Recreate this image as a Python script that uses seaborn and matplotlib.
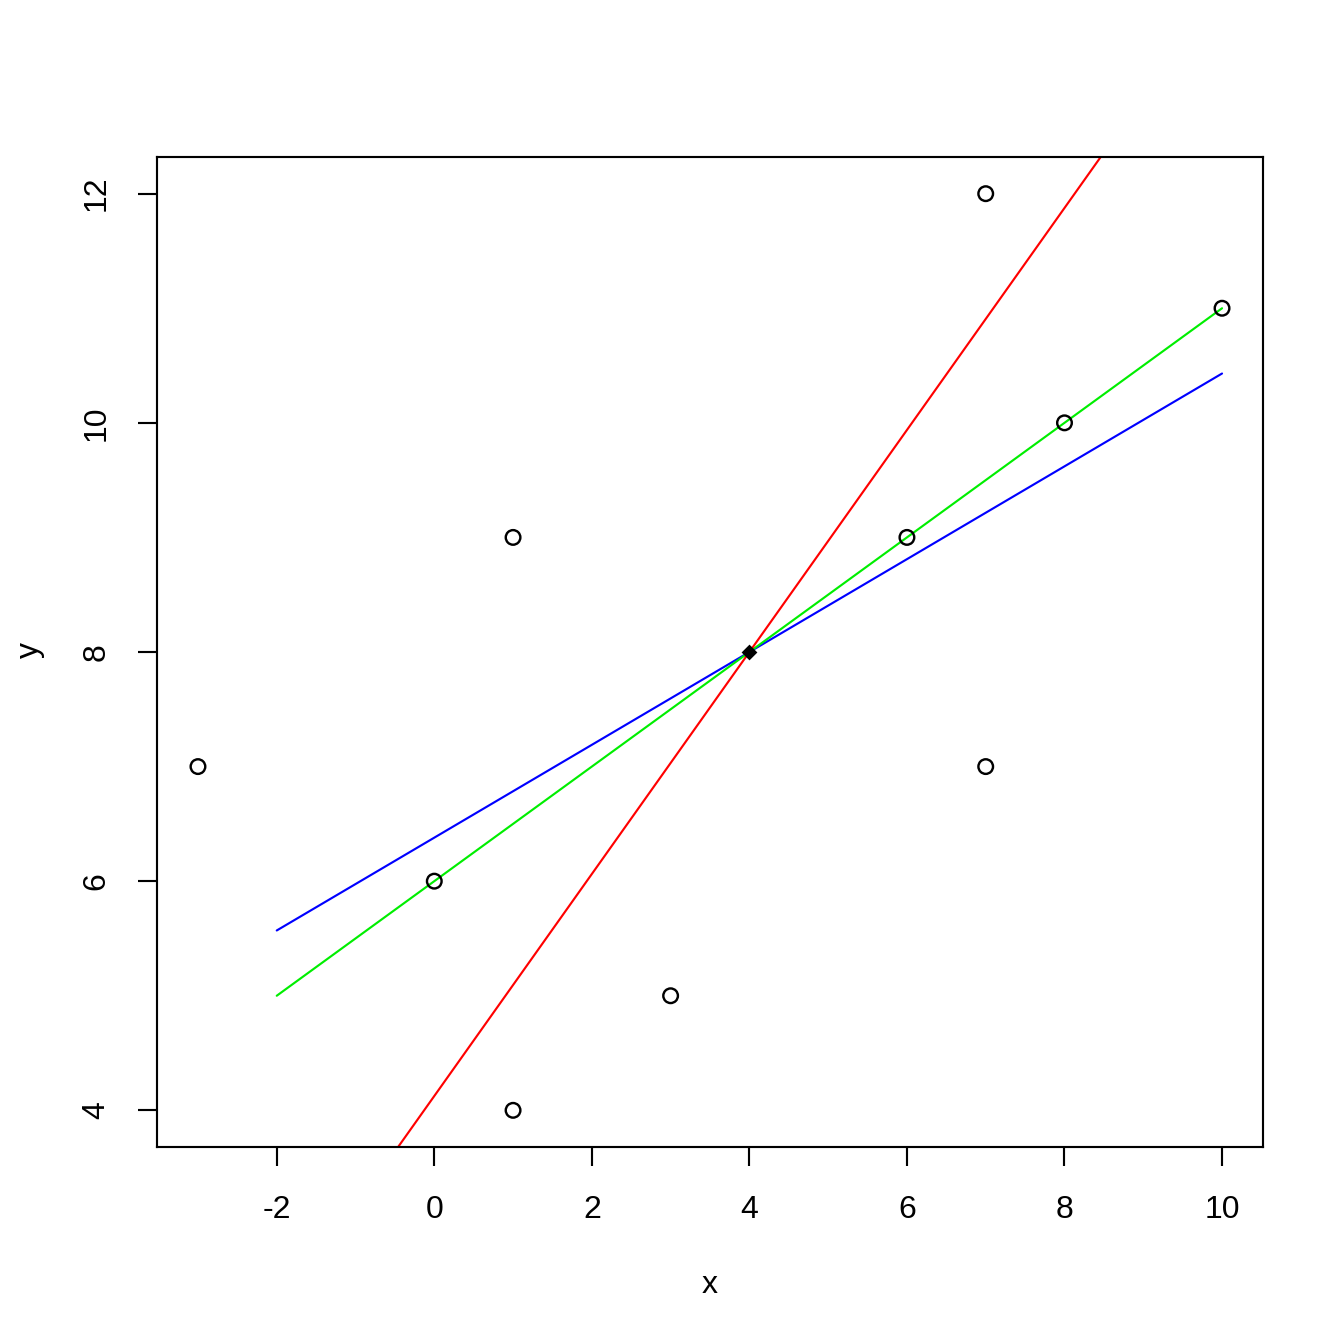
import numpy as np
import pandas as pd
import matplotlib
matplotlib.use("Agg")
import matplotlib.pyplot as plt
import seaborn as sns

# data points
x = [-3, 0, 1, 1, 3, 6, 7, 7, 8, 10]
y = [7, 6, 9, 4, 5, 9, 12, 7, 10, 11]
seg_x = [-2, 10]   # span of the blue / green segments

df = pd.DataFrame({"x": x, "y": y})
mx, my = df["x"].mean(), df["y"].mean()
dx, dy = df["x"] - mx, df["y"] - my
sxx, syy, sxy = (dx * dx).sum(), (dy * dy).sum(), (dx * dy).sum()

b_yx = sxy / sxx                      # y on x  (blue)
b_xy = syy / sxy                      # x on y  (red)
b_orth = (syy - sxx + np.sqrt((syy - sxx) ** 2 + 4 * sxy ** 2)) / (2 * sxy)  # orthogonal (green)

sns.set_style("white")
plt.rcParams["font.family"] = ["Liberation Sans", "DejaVu Sans"]
plt.rcParams["axes.unicode_minus"] = False
plt.rcParams["text.color"] = "black"
plt.rcParams["axes.labelcolor"] = "black"
plt.rcParams["xtick.color"] = "black"
plt.rcParams["ytick.color"] = "black"

fig = plt.figure(figsize=(7, 7), dpi=192)
ax = fig.add_axes([157 / 1344, 197 / 1344, 1106 / 1344, 990 / 1344])

sns.scatterplot(data=df, x="x", y="y", ax=ax, marker="o", s=30,
                facecolors="none", edgecolor="black", linewidth=0.9, zorder=3)

segs = pd.DataFrame({"x": seg_x})
segs["blue"] = my + b_yx * (segs["x"] - mx)
segs["green"] = my + b_orth * (segs["x"] - mx)
ax.plot(segs["x"], segs["blue"], color="blue", lw=0.8)
ax.plot(segs["x"], segs["green"], color="#00ee00", lw=0.8)
ax.axline((mx, my), slope=b_xy, color="red", lw=0.8)
ax.plot([mx], [my], marker="D", ms=3, color="black", zorder=4)

xr = max(x) - min(x)
yr = max(y) - min(y)
ax.set_xlim(min(x) - 0.04 * xr, max(x) + 0.04 * xr)
ax.set_ylim(min(y) - 0.04 * yr, max(y) + 0.04 * yr)

ax.set_xticks(range(-2, 11, 2))
ax.set_yticks(range(4, 13, 2))
ax.tick_params(axis="both", direction="out", length=7.2, width=0.8,
               labelsize=12, color="black", labelcolor="black",
               bottom=True, left=True)
ax.tick_params(axis="x", pad=10.8)
ax.tick_params(axis="y", pad=9.8)
for lab in ax.get_yticklabels():
    lab.set_rotation(90)
    lab.set_va("center")
for s in ax.spines.values():
    s.set_color("black")
    s.set_linewidth(0.8)

ax.set_xlabel("x", fontsize=12, color="black")
ax.set_ylabel("y", fontsize=12, color="black")
ax.xaxis.set_label_coords((710 - 157) / 1106, -(1285 - 1147) / 990)
ax.yaxis.set_label_coords(-(157 - 30) / 1106, (1147 - 650) / 990)
ax.xaxis.label.set_va("center")
ax.yaxis.label.set_va("center")

fig.savefig("out.png", dpi=192, facecolor="white")
